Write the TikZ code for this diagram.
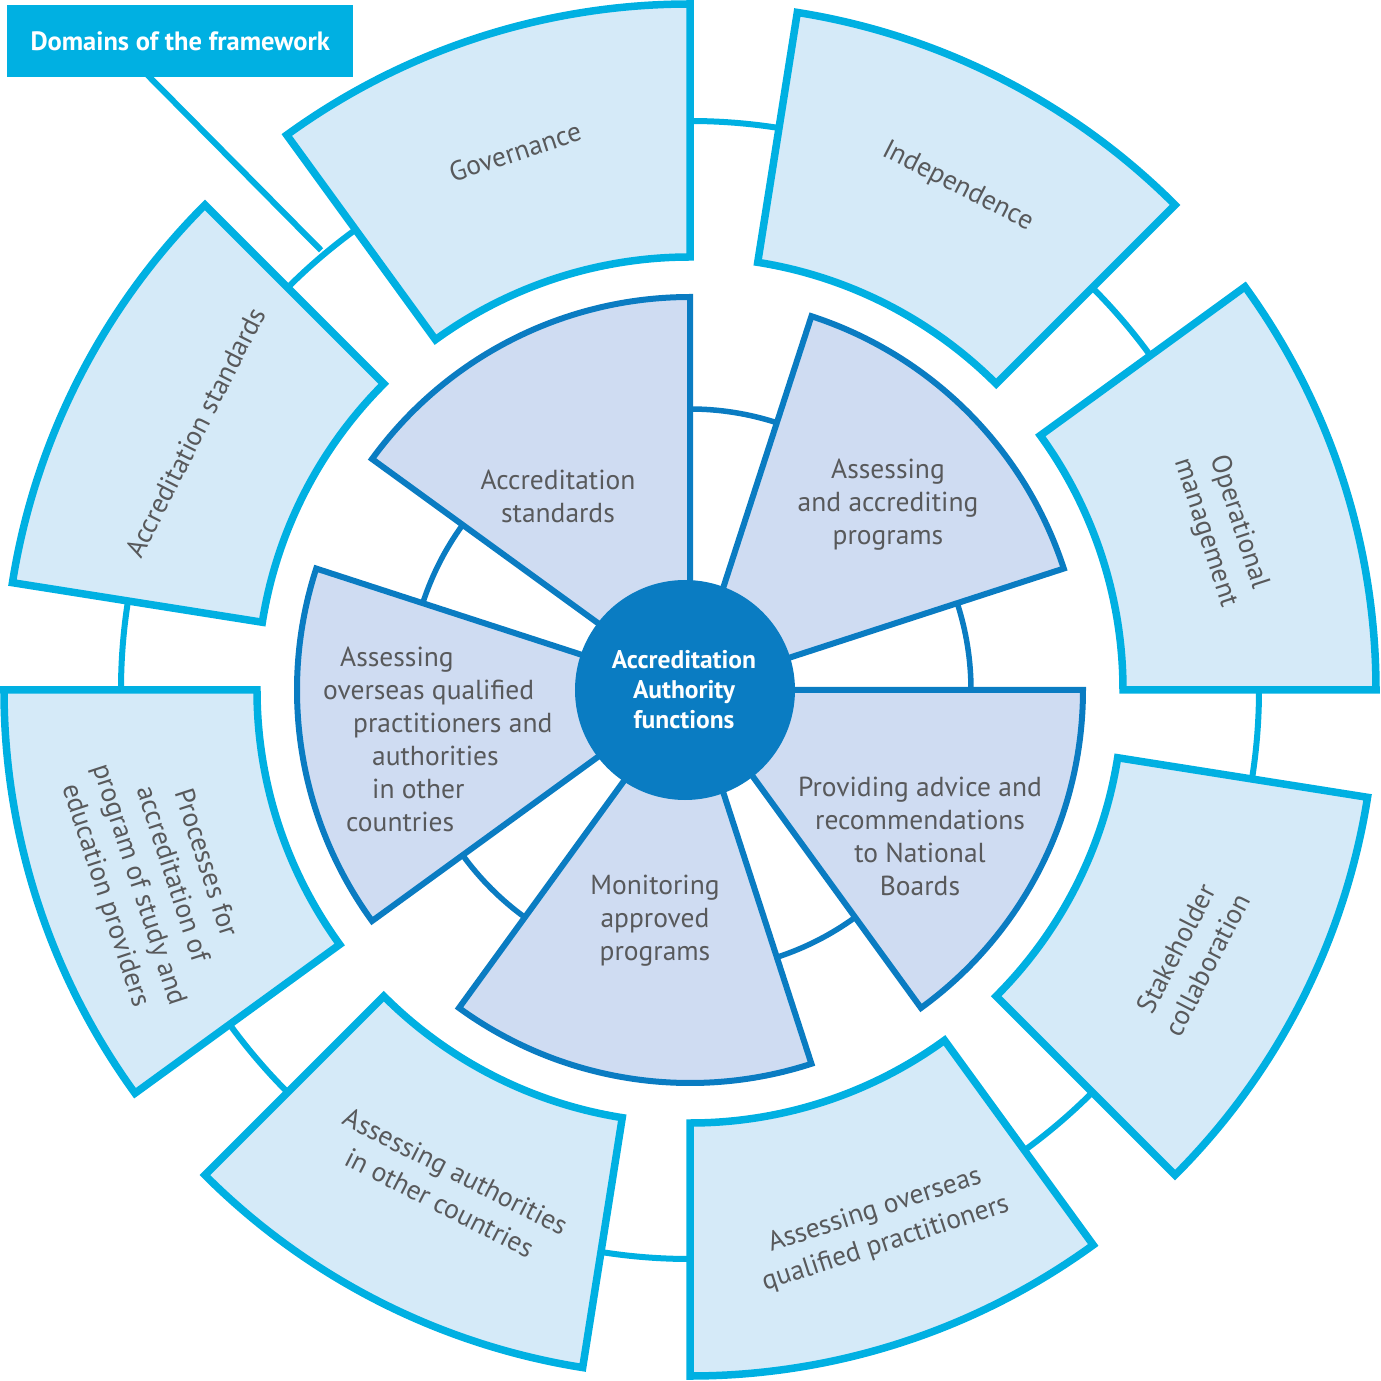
\documentclass[tikz,border=0pt]{standalone}
\usepackage{fontspec}
\setmainfont{PT Sans}
\definecolor{cyanline}{RGB}{0,176,226}
\definecolor{outerfill}{RGB}{213,234,248}
\definecolor{innerline}{RGB}{10,124,194}
\definecolor{innerfill}{RGB}{207,220,242}
\definecolor{textgray}{RGB}{88,89,91}
\pgfdeclarelayer{bg}
\pgfsetlayers{bg,main}
\tikzset{
  outersec/.style={draw=cyanline, fill=outerfill, line width=7.5pt, line join=miter},
  innersec/.style={draw=innerline, fill=innerfill, line width=6pt, line join=miter},
  outergap/.style={draw=cyanline, line width=6pt},
  innergap/.style={draw=innerline, line width=5.5pt},
  txt/.style={text=textgray, font=\fontsize{27.5}{33}\selectfont, align=center, inner sep=0pt},
  otxt/.style={txt, font=\fontsize{27.5}{35}\selectfont},
}
\begin{document}
\begin{tikzpicture}[x=1pt,y=1pt]
\useasboundingbox (-690,-691) rectangle (691,690);
% gap arcs of the outer ring
\foreach \a in {36,81,126,171,216,261,306,351}
  \draw[outergap] ({\a}:569) arc[start angle=\a, end angle=\a+9, radius=569];
% outer sectors
\foreach \a in {0,45,90,135,180,225,270,315}
  \draw[outersec] ({\a}:433) arc[start angle=\a, end angle=\a+36, radius=433]
     -- ({\a+36}:686) arc[start angle=\a+36, end angle=\a, radius=686] -- cycle;
% gap arcs of the inner ring
\foreach \a in {0,72,144,216,288}
  \draw[innergap] ({\a}:281) arc[start angle=\a, end angle=\a+18, radius=281];
% inner sectors
\foreach \a in {18,90,162,234,306}
  \draw[innersec] (0,0) -- ({\a}:393) arc[start angle=\a, end angle=\a+54, radius=393] -- cycle;
% centre
\node[circle, fill=innerline, minimum size=220pt, inner sep=0pt] (centre) at (-5,0) {};
\node[text=white, font=\bfseries\fontsize{25.5}{30}\selectfont, align=center] (centretext) at (-6,0) {Accreditation\\Authority\\functions};
% label
\node[fill=cyanline, text=white, font=\bfseries\fontsize{26.5}{30}\selectfont, minimum width=346pt, minimum height=72pt, anchor=north west, inner sep=0pt] (domains) at (-683,685) {Domains of the framework};
\coordinate (calend) at (130:574);
\begin{pgfonlayer}{bg}
\draw[outergap] ([xshift=133pt,yshift=10pt]domains.south west) -- (calend);
\end{pgfonlayer}
% outer texts
\node[otxt, rotate=18] (gov) at (108:566) {Governance};
\node[otxt, rotate=-27] (ind) at (62:570) {Independence};
\node[otxt, rotate=-72] (ops) at (17:556) {Operational\\management};
\node[otxt, rotate=63] (stk) at (332:568) {Stakeholder\\collaboration};
\node[otxt, rotate=18] (aoq) at (289.5:570) {Assessing overseas\\qualified practitioners};
\node[otxt, rotate=-27] (aut) at (244:553) {Assessing authorities\\in other countries};
\node[otxt, rotate=-72] (proc) at (199.5:568) {Processes for\\accreditation of\\program of study and\\education providers};
\node[otxt, rotate=63] (accs) at (152.5:558) {Accreditation standards};
% inner texts
\node[txt] (i1) at (-132,194) {Accreditation\\standards};
\node[txt] (i2) at (198,185) {Assessing\\and accrediting\\programs};
\node[txt] (i3) at (230,-146) {Providing advice and\\recommendations\\to National\\Boards};
\node[txt] (i4) at (-35,-231) {Monitoring\\approved\\programs};
\node[txt, align=left, anchor=west] (i5) at (-367,-49) {\hspace*{17pt}Assessing\\overseas qualified\\\hspace*{30pt}practitioners and\\\hspace*{49pt}authorities\\\hspace*{49pt}in other\\\hspace*{23pt}countries};
\end{tikzpicture}
\end{document}
